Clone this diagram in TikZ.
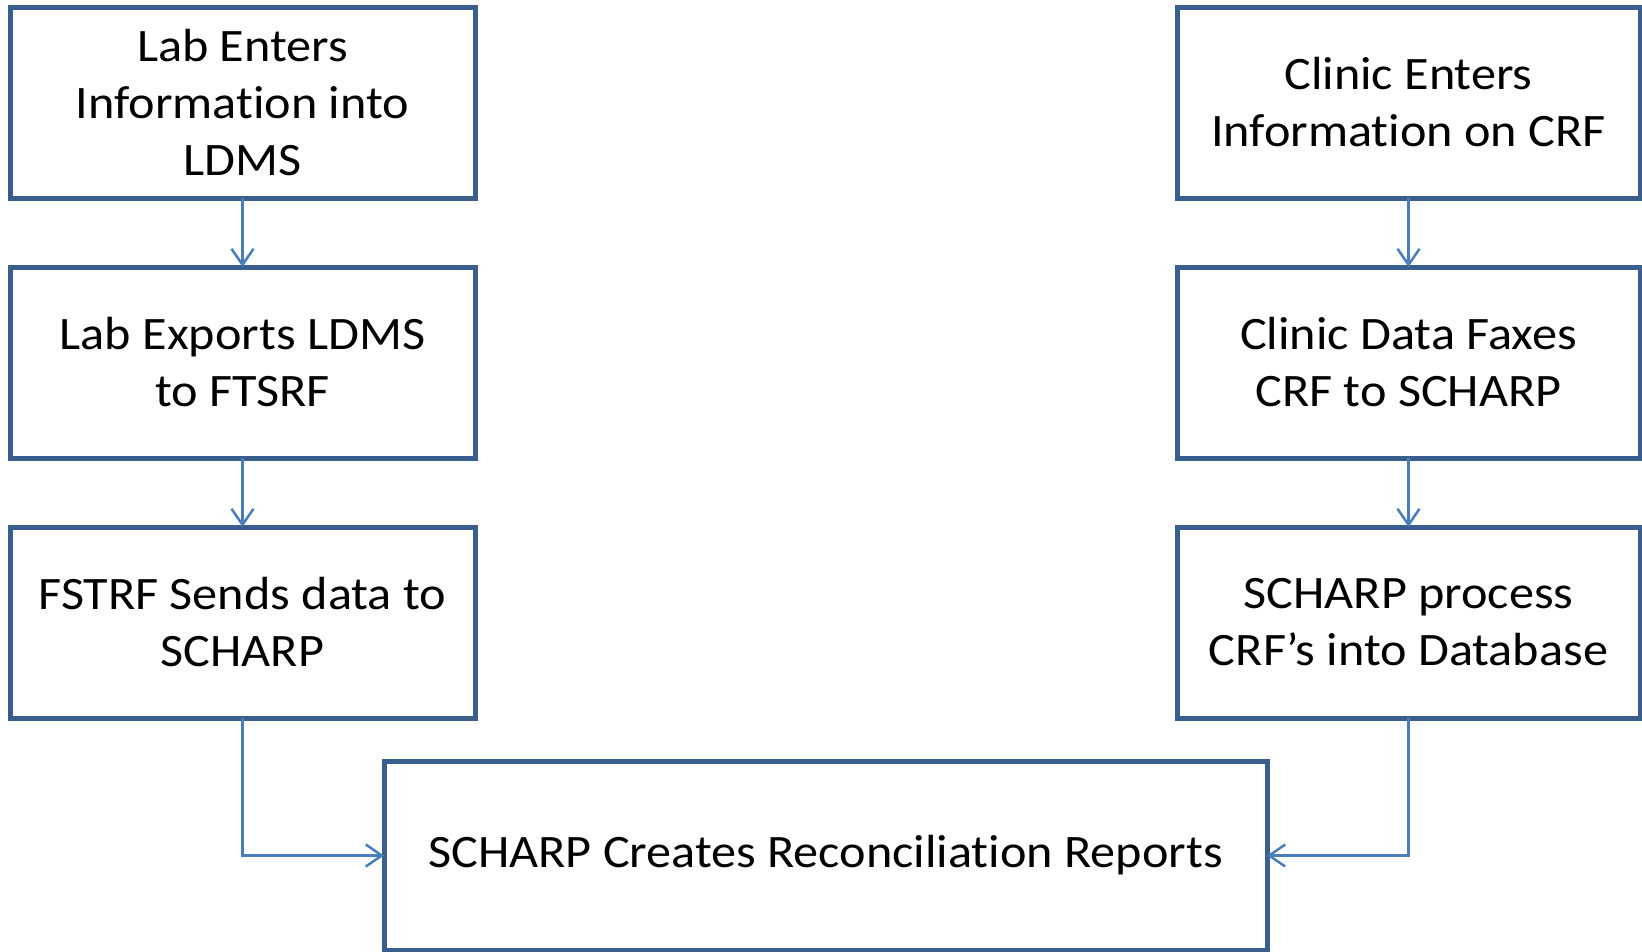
\documentclass[tikz,border=0pt]{standalone}
\usepackage{fontspec}
\setmainfont[FakeStretch=1.08,RawFeature=-liga]{Carlito}
\usetikzlibrary{arrows.meta}
\definecolor{boxblue}{HTML}{3A5F8E}
\definecolor{arrowblue}{HTML}{4A7EBB}
\tikzset{
  flowbox/.style={draw=boxblue, line width=5pt, rectangle, inner sep=0pt, outer sep=0pt,
    align=center, font=\fontsize{46.5}{57}\selectfont, text=black},
  flowarrow/.style={draw=arrowblue, line width=2.5pt, -{Straight Barb[length=16pt,width=22pt]}}
}
\begin{document}
\begin{tikzpicture}[x=1pt,y=-1pt]
\useasboundingbox (0,0) rectangle (1642,951);
\node[flowbox, minimum width=465pt, minimum height=191pt] (l1) at (242.5,102.5) {Lab Enters\\Information into\\LDMS};
\node[flowbox, minimum width=465pt, minimum height=191pt] (l2) at (242.5,362.5) {Lab Exports LDMS\\to FTSRF};
\node[flowbox, minimum width=465pt, minimum height=191pt] (l3) at (242.5,622.5) {FSTRF Sends data to\\SCHARP};
\node[flowbox, minimum width=463pt, minimum height=191pt] (r1) at (1408.5,102.5) {Clinic Enters\\Information on CRF};
\node[flowbox, minimum width=463pt, minimum height=191pt] (r2) at (1408.5,362.5) {Clinic Data Faxes\\CRF to SCHARP};
\node[flowbox, minimum width=463pt, minimum height=191pt] (r3) at (1408.5,622.5) {SCHARP process\\CRF’s into Database};
\node[flowbox, minimum width=883pt, minimum height=189pt] (b) at (825.5,855.5) {SCHARP Creates Reconciliation Reports};
\draw[flowarrow] (l1.south) -- (l2.north);
\draw[flowarrow] (l2.south) -- (l3.north);
\draw[flowarrow] (r1.south) -- (r2.north);
\draw[flowarrow] (r2.south) -- (r3.north);
\draw[flowarrow] (l3.south) |- (b.west);
\draw[flowarrow] (r3.south) |- (b.east);
\end{tikzpicture}
\end{document}
